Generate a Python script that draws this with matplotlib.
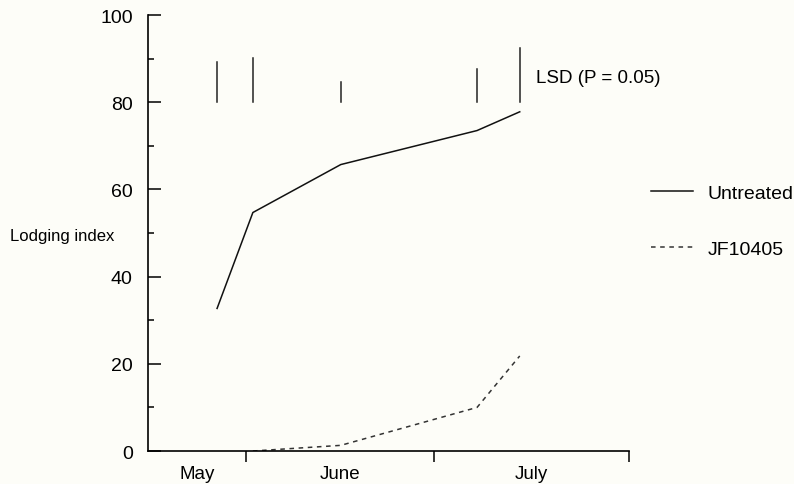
import matplotlib.pyplot as plt
import numpy as np

plt.rcParams['font.family'] = ['Liberation Sans', 'DejaVu Sans']

# sampling dates, in days counted from 1 May
days = [26.4, 32.1, 46.1, 67.8, 74.6]
untreated = [32.7, 54.7, 65.7, 73.5, 77.8]

jf_days = [32.1, 46.1, 67.8, 74.6]
jf10405 = [0.0, 1.3, 10.0, 21.8]

# LSD (P = 0.05) bar lengths at each date, drawn up from 80
lsd = [9.3, 10.2, 4.7, 7.6, 12.5]
lsd_base = 80

month_edges = [31, 61, 92]
month_names = ['May', 'June', 'July']
x_start = 15.4

bg = '#fdfdf8'
fig = plt.figure(figsize=(7.94, 4.85), dpi=100, facecolor=bg)
ax = fig.add_axes([0.1864, 0.068, 0.6058, 0.899], facecolor=bg)

ax.plot(days, untreated, color='#111111', lw=1.1, label='Untreated')
ax.plot(jf_days, jf10405, color='#333333', lw=1.1, ls=(0, (3, 3)), label='JF10405')

for d, l in zip(days, lsd):
    ax.plot([d, d], [lsd_base, lsd_base + l], color='#222222', lw=1.1)
ax.text(days[-1] + 2.6, 85.6, 'LSD (P = 0.05)', fontsize=13.5, va='center', ha='left')

ax.set_xlim(x_start, month_edges[-1])
ax.set_ylim(0, 100)

ax.spines['top'].set_visible(False)
ax.spines['right'].set_visible(False)
ax.spines['left'].set_linewidth(1.2)
ax.spines['bottom'].set_linewidth(1.2)

ax.set_yticks(np.arange(0, 101, 20))
ax.set_yticks(np.arange(10, 100, 20), minor=True)
ax.tick_params(axis='y', which='major', direction='in', length=9, width=1.1,
               pad=11, labelsize=14)
ax.tick_params(axis='y', which='minor', direction='in', length=4.5, width=1.1)

# month boundaries as ticks, month names centred between them
ax.set_xticks(month_edges)
ax.set_xticklabels([])
starts = [x_start] + month_edges[:-1]
ax.set_xticks([(a + b) / 2 for a, b in zip(starts, month_edges)], minor=True)
ax.set_xticklabels(month_names, minor=True)
ax.tick_params(axis='x', which='major', direction='out', length=8, width=1.1)
ax.tick_params(axis='x', which='minor', length=0, pad=10, labelsize=13.5)

fig.text(10 / 794, 1 - 237 / 485, 'Lodging index', fontsize=12, va='center', ha='left')

ax.legend(loc='upper left', bbox_to_anchor=(1.0457, 0.611), frameon=False,
          fontsize=14, handlelength=2.16, handletextpad=0.77, labelspacing=1.97,
          borderpad=0, borderaxespad=0)

fig.savefig('out.png', dpi=100, facecolor=bg)
